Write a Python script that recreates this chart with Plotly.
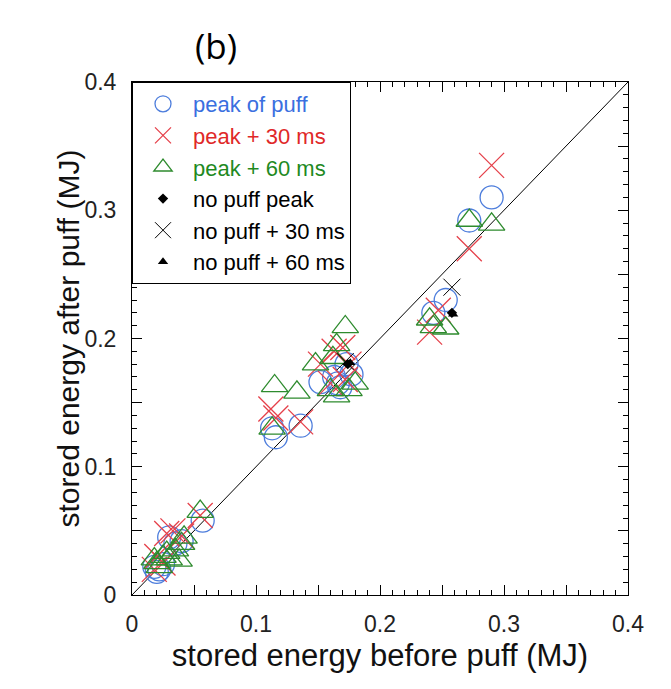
import plotly.graph_objects as go

# ---- data (MJ) ----
peak_x = [0.290, 0.272, 0.243, 0.253, 0.113, 0.116, 0.136, 0.152, 0.163, 0.166, 0.168, 0.173, 0.177,
          0.018, 0.020, 0.022, 0.025, 0.030, 0.035, 0.040, 0.057]
peak_y = [0.310, 0.292, 0.220, 0.230, 0.130, 0.123, 0.132, 0.166, 0.170, 0.165, 0.162, 0.180, 0.172,
          0.022, 0.018, 0.020, 0.024, 0.045, 0.040, 0.042, 0.058]

p30_x = [0.290, 0.272, 0.240, 0.247, 0.112, 0.116, 0.136, 0.152, 0.163, 0.170, 0.175, 0.172, 0.160,
         0.020, 0.025, 0.028, 0.033, 0.040, 0.055, 0.018]
p30_y = [0.335, 0.270, 0.205, 0.222, 0.145, 0.138, 0.135, 0.180, 0.190, 0.193, 0.180, 0.168, 0.165,
         0.030, 0.025, 0.048, 0.050, 0.046, 0.062, 0.020]

p60_x = [0.272, 0.290, 0.240, 0.243, 0.253, 0.113, 0.115, 0.133, 0.148, 0.162, 0.172, 0.165, 0.175,
         0.165, 0.180, 0.160, 0.020, 0.025, 0.030, 0.035, 0.040, 0.042, 0.055, 0.022, 0.038, 0.018, 0.028]
p60_y = [0.292, 0.289, 0.215, 0.209, 0.208, 0.130, 0.163, 0.158, 0.180, 0.185, 0.209, 0.155, 0.160,
         0.195, 0.165, 0.160, 0.025, 0.030, 0.028, 0.035, 0.040, 0.045, 0.065, 0.022, 0.027, 0.028, 0.033]

np_peak_x = [0.174, 0.258]
np_peak_y = [0.180, 0.220]
np30_x = [0.172, 0.258]
np30_y = [0.182, 0.240]
np60_x = [0.176, 0.259]
np60_y = [0.181, 0.219]

diag = [0.0, 0.4]

tick_vals = [0, 0.05, 0.1, 0.15, 0.2, 0.25, 0.3, 0.35, 0.4]
tick_text = ["0", "", "0.1", "", "0.2", "", "0.3", "", "0.4"]

BLUE = "#4d7ddc"
RED = "#e5404a"
GREEN = "#2e8b2e"

fig = go.Figure()

fig.add_trace(go.Scatter(x=diag, y=diag, mode="lines", line=dict(color="black", width=1),
                         showlegend=False, hoverinfo="skip"))

fig.add_trace(go.Scatter(
    x=peak_x, y=peak_y, mode="markers",
    name="<span style='color:#3a6fe0'>peak of puff</span>",
    marker=dict(symbol="circle-open", size=23, color=BLUE, line=dict(width=1.3, color=BLUE))))
fig.add_trace(go.Scatter(
    x=p30_x, y=p30_y, mode="markers",
    name="<span style='color:#e02828'>peak + 30 ms</span>",
    marker=dict(symbol="x-thin-open", size=25, color=RED, line=dict(width=1.3, color=RED))))
fig.add_trace(go.Scatter(
    x=p60_x, y=p60_y, mode="markers",
    name="<span style='color:#1f8a1f'>peak + 60 ms</span>",
    marker=dict(symbol="triangle-up-open", size=23, color=GREEN, line=dict(width=1.3, color=GREEN))))
fig.add_trace(go.Scatter(
    x=np_peak_x, y=np_peak_y, mode="markers", name="no puff peak",
    marker=dict(symbol="diamond", size=8, color="black")))
fig.add_trace(go.Scatter(
    x=np30_x, y=np30_y, mode="markers", name="no puff + 30 ms",
    marker=dict(symbol="x-thin-open", size=17, color="black", line=dict(width=1, color="black"))))
fig.add_trace(go.Scatter(
    x=np60_x, y=np60_y, mode="markers", name="no puff + 60 ms",
    marker=dict(symbol="triangle-up", size=9, color="black")))

axis_common = dict(
    range=[0, 0.4], showgrid=False, zeroline=False,
    showline=True, linecolor="black", linewidth=1, mirror="allticks",
    ticks="inside", ticklen=10, tickwidth=1, tickcolor="black",
    tickmode="array", tickvals=tick_vals, ticktext=tick_text,
    tickfont=dict(size=23, color="#222"),
    minor=dict(dtick=0.01, ticks="inside", ticklen=5, tickwidth=1, tickcolor="black"),
)

fig.update_xaxes(**axis_common, ticklabelstandoff=8,
                 title=dict(text="stored energy before puff (MJ)", font=dict(size=31, color="#111"), standoff=8))
fig.update_yaxes(**axis_common, ticklabelstandoff=10)

fig.update_layout(
    width=671, height=689,
    margin=dict(l=132, r=43, t=82, b=94, autoexpand=False),
    paper_bgcolor="white", plot_bgcolor="white",
    font=dict(family="Liberation Sans, Arial, sans-serif", color="black"),
    showlegend=True,
    legend=dict(x=0, y=1, xanchor="left", yanchor="top",
                bgcolor="white", bordercolor="black", borderwidth=1,
                font=dict(size=22, color="black"), itemwidth=50,
                tracegroupgap=0),
    annotations=[
        dict(text="(b)", xref="paper", yref="paper", x=0.17, y=1.0, yshift=37,
             xanchor="center", yanchor="middle", showarrow=False,
             font=dict(size=35, family="Open Sans, Liberation Sans, sans-serif", color="black")),
        dict(text="stored energy after puff (MJ)", xref="paper", yref="paper",
             x=-0.129, y=0.5, xanchor="center", yanchor="middle", textangle=-90,
             showarrow=False, font=dict(size=30, color="#111")),
    ],
)

fig.write_html("out.html")
